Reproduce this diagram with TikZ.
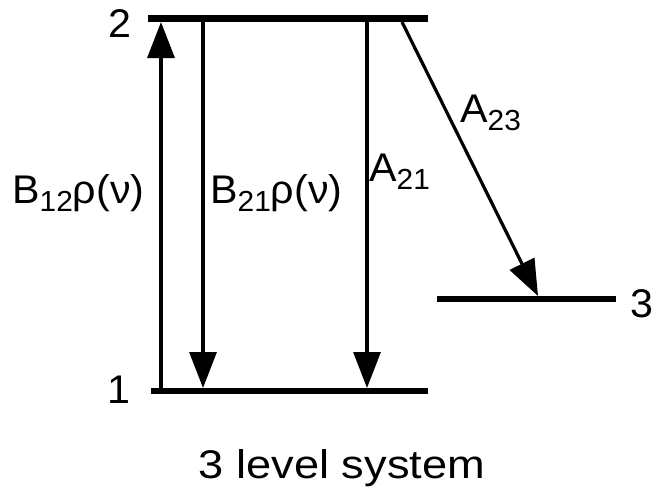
\documentclass[tikz,border=0pt]{standalone}
\usepackage{fontspec}
\setmainfont{Liberation Sans}
\usetikzlibrary{arrows.meta}
\newcommand\sbs[1]{\raisebox{-0.22em}{\fontsize{29}{29}\selectfont #1}}
\tikzset{
  level/.style={line width=6.5pt},
  trans/.style={line width=3.2pt,-{Triangle[width=27pt,length=36pt]}},
  lab/.style={font=\fontsize{40}{42}\selectfont, inner sep=0pt, xscale=1.03},
}
\begin{document}
\begin{tikzpicture}[x=1pt,y=-1pt]
\useasboundingbox (0,0) rectangle (653,493);
% levels
\coordinate (L2a) at (148,18.5);
\coordinate (L2b) at (428,18.5);
\coordinate (L1a) at (151,391);
\coordinate (L1b) at (428,391);
\coordinate (L3a) at (437,299);
\coordinate (L3b) at (616,299);
\draw[level] (L2a) -- (L2b);
\draw[level] (L1a) -- (L1b);
\draw[level] (L3a) -- (L3b);
% transitions
\coordinate (u0) at (161,388);
\coordinate (u1) at (161,22);
\coordinate (d0) at (203,22);
\coordinate (d1) at (203,388);
\coordinate (a0) at (367,22);
\coordinate (a1) at (367,388);
\coordinate (b0) at (402,22);
\coordinate (b1) at (538,296);
\draw[trans] (u0) -- (u1);
\draw[trans] (d0) -- (d1);
\draw[trans] (a0) -- (a1);
\draw[trans] (b0) -- (b1);
% labels
\node[lab] (n2) at (120,23.5) {2};
\node[lab] (n1) at (119,390) {1};
\node[lab] (n3) at (641.5,303.5) {3};
\node[lab,anchor=base west] (B12) at (12,203) {B\sbs{12}ρ(ν)};
\node[lab,anchor=base west] (B21) at (210,203) {B\sbs{21}ρ(ν)};
\node[lab,anchor=base west] (A21) at (369,181) {A\sbs{21}};
\node[lab,anchor=base west] (A23) at (460,122) {A\sbs{23}};
\node[font=\fontsize{40}{42}\selectfont, inner sep=0pt, anchor=base, xscale=1.13] (cap) at (342,478) {3 level system};
\end{tikzpicture}
\end{document}
